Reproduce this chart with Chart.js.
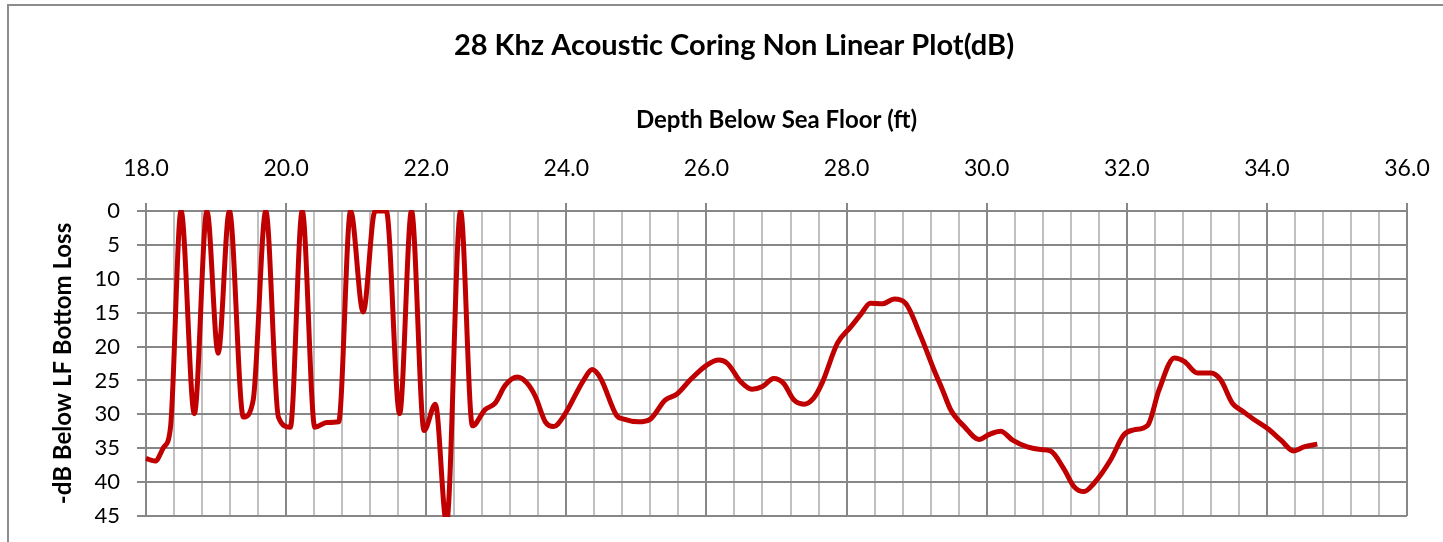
<!DOCTYPE html>
<html><head><meta charset="utf-8">
<script src="https://cdn.jsdelivr.net/npm/chart.js@4/dist/chart.umd.min.js"></script>
<style>
html,body{margin:0;padding:0;background:#fff;overflow:hidden;}
#wrap{position:relative;width:1443px;height:542px;overflow:hidden;}
#frame{position:absolute;left:7px;top:4px;width:1500px;height:600px;border-left:2px solid #8c8c8c;border-top:2px solid #8c8c8c;box-sizing:border-box;}
canvas{position:absolute;left:0;top:0;}
</style></head><body>
<div id="wrap"><div id="frame"></div><canvas id="c" width="1443" height="542" style="width:1443px;height:542px"></canvas></div>
<script>
const depthFt = [18.00,18.13,18.25,18.35,18.50,18.69,18.87,19.03,19.19,19.39,19.53,19.71,19.89,20.06,20.23,20.41,20.58,20.75,20.92,21.10,21.27,21.43,21.62,21.79,21.97,22.13,22.29,22.49,22.66,22.84,22.98,23.13,23.30,23.44,23.56,23.70,23.82,23.96,24.25,24.37,24.49,24.72,24.82,25.03,25.20,25.41,25.58,25.77,26.01,26.18,26.30,26.49,26.65,26.80,26.96,27.10,27.25,27.39,27.53,27.65,27.87,28.06,28.20,28.34,28.51,28.68,28.84,29.06,29.25,29.37,29.49,29.68,29.89,30.03,30.20,30.37,30.58,30.77,30.91,31.10,31.25,31.39,31.53,31.77,31.96,32.10,32.30,32.46,32.68,32.82,33.01,33.20,33.34,33.51,33.65,33.82,34.01,34.20,34.38,34.53,34.72];
const dbBelowLF = [36.5,36.9,34.9,31.9,0,29.9,0,21.0,0,30.4,27.9,0,30.4,31.9,0,31.9,31.2,31.1,0,14.9,0,0,29.9,0,32.4,28.5,46,0,31.7,29.3,28.4,25.7,24.5,25.4,27.4,31.1,31.8,30.3,24.9,23.4,24.7,30.2,30.7,31.1,30.7,27.9,27.0,24.9,22.7,22.0,22.5,25.2,26.3,25.9,24.7,25.4,27.9,28.5,27.6,25.4,19.5,17.1,15.3,13.6,13.7,13.0,13.6,18.5,23.5,26.4,29.4,31.8,33.7,33.0,32.5,33.8,34.8,35.2,35.4,38.0,40.7,41.4,40.2,36.7,33.0,32.3,31.6,26.4,21.7,22.2,23.9,23.9,24.9,28.4,29.5,30.8,32.1,33.8,35.4,34.8,34.4];
const xTickLabels = ['18.0','20.0','22.0','24.0','26.0','28.0','30.0','32.0','34.0','36.0'];
const yTickLabels = [0,5,10,15,20,25,30,35,40,45];

const FONT = 'Lato, "Open Sans", sans-serif';
const GRID_DARK = '#878787', GRID_LIGHT = '#c0c0c0';
function isMajor(v){ return Math.abs(v/2 - Math.round(v/2)) < 1e-6; }
function labelFor(v){
  const s = (Math.round(v*10)/10).toFixed(1);
  return xTickLabels.includes(s) ? s : '';
}
const points = depthFt.map((x,i)=>({x:x, y:dbBelowLF[i]}));

new Chart(document.getElementById('c'), {
  type: 'scatter',
  data: { datasets: [{
    data: points, showLine: true, borderColor: '#C00000', backgroundColor: '#C00000',
    borderWidth: 5, pointRadius: 0, cubicInterpolationMode: 'monotone', clip: 1
  }]},
  options: {
    responsive: false, animation: false, devicePixelRatio: 1,
    layout: { padding: { left: 61, right: 36, top: 0, bottom: 26 } },
    plugins: {
      legend: { display: false }, tooltip: { enabled: false },
      title: { display: true, text: '28 Khz Acoustic Coring Non Linear Plot(dB)', color: '#000',
        font: { family: FONT, size: 29, weight: 'bold' }, padding: { top: 28.6, bottom: 22 } }
    },
    scales: {
      x: {
        type: 'linear', position: 'top', min: 18, max: 36,
        ticks: { stepSize: 0.4, autoSkip: false, maxRotation: 0, minRotation: 0, color: '#000',
          font: { family: FONT, size: 23 }, padding: 21, callback: (v)=>labelFor(v) },
        grid: { color: c => isMajor(c.tick.value) ? GRID_DARK : GRID_LIGHT, lineWidth: 2,
          tickLength: 8, tickColor: c => isMajor(c.tick.value) ? GRID_DARK : 'rgba(0,0,0,0)' },
        border: { color: GRID_DARK, width: 2 },
        title: { display: true, text: 'Depth Below Sea Floor (ft)', color: '#000',
          font: { family: FONT, size: 24, weight: 'bold' }, padding: { top: 20, bottom: 0 } },
        afterFit: s => { s.height = 211 - 85.4; s.paddingLeft = 0; s.paddingRight = 0; }
      },
      y: {
        reverse: true, min: 0, max: 45,
        ticks: { stepSize: 5, color: '#000', font: { family: FONT, size: 22 }, padding: 17,
          callback: (v)=> yTickLabels.includes(v) ? String(v) : '' },
        grid: { color: GRID_DARK, lineWidth: 2, tickLength: 9, tickColor: GRID_DARK },
        border: { color: GRID_DARK, width: 2 },
        title: { display: true, text: '-dB Below LF Bottom Loss', color: '#000',
          font: { family: FONT, size: 24, weight: 'bold' }, padding: { top: -12.4, bottom: 0 } },
        afterFit: s => { s.width = 85; s.paddingTop = 0; s.paddingBottom = 0; }
      }
    }
  }
});
</script>
</body></html>
